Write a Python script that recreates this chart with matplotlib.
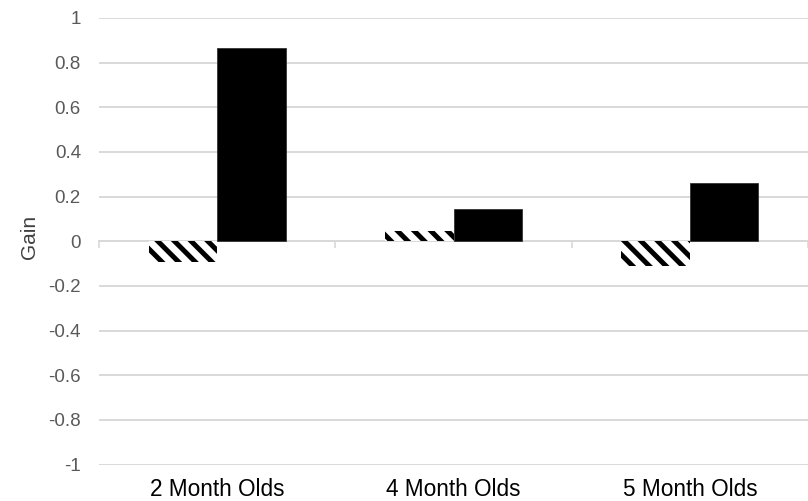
#!/usr/bin/env python3
"""Gain per age group: hatched (negative-ish) vs solid bars, Excel-style look."""
import matplotlib
matplotlib.use("Agg")
import matplotlib.pyplot as plt
import numpy as np

# data
groups = ["2 Month Olds", "4 Month Olds", "5 Month Olds"]
hatched_gain = [-0.094, 0.048, -0.112]
solid_gain = [0.867, 0.143, 0.263]
y_ticks = [-1, -0.8, -0.6, -0.4, -0.2, 0, 0.2, 0.4, 0.6, 0.8, 1]
y_tick_labels = ["-1", "-0.8", "-0.6", "-0.4", "-0.2", "0", "0.2", "0.4", "0.6", "0.8", "1"]

plt.rcParams["font.family"] = ["Liberation Sans", "DejaVu Sans"]
plt.rcParams["hatch.linewidth"] = 3.6

GRID = "#d9d9d9"
TICK_TXT = "#595959"

fig = plt.figure(figsize=(8.08, 5.01), dpi=100)
ax = fig.add_axes([99 / 808, 1 - 464.5 / 501, 709 / 808, 446.5 / 501])

x = np.arange(len(groups))
w = 0.29
ax.bar(x - w / 2, hatched_gain, w, color="white", edgecolor="black",
       linewidth=0, hatch="\\\\", zorder=3)
ax.bar(x + w / 2, solid_gain, w, color="black", edgecolor="#333333",
       linewidth=0.6, zorder=3)

ax.set_xlim(-0.5, (808 - 219.5) / 240)
ax.set_ylim(-1, 1)

# gridlines
ax.set_yticks(y_ticks)
ax.set_yticklabels(y_tick_labels)
ax.grid(axis="y", color=GRID, linewidth=1.4, zorder=0)
ax.tick_params(axis="y", length=0, pad=13, labelsize=13.5, labelcolor=TICK_TXT)

# category axis sits on zero with small boundary ticks
for side in ("top", "right", "left"):
    ax.spines[side].set_visible(False)
ax.spines["bottom"].set_position(("data", 0))
ax.spines["bottom"].set_color(GRID)
ax.spines["bottom"].set_linewidth(1.4)
ax.spines["bottom"].set_zorder(1)
ax.set_xticks(np.arange(len(groups) + 1) - 0.5)
ax.set_xticklabels([])
ax.tick_params(axis="x", direction="out", length=5, width=1.2, color=GRID)

for i, g in enumerate(groups):
    ax.annotate(g, xy=(i, -1), xytext=(0, -18), textcoords="offset points",
                ha="center", va="center", fontsize=16.3, color="black",
                annotation_clip=False)

ax.set_ylabel("Gain", fontsize=15, color="#404040")
ax.yaxis.set_label_coords(-0.085, 0.51)

fig.savefig("out.png", dpi=100)
